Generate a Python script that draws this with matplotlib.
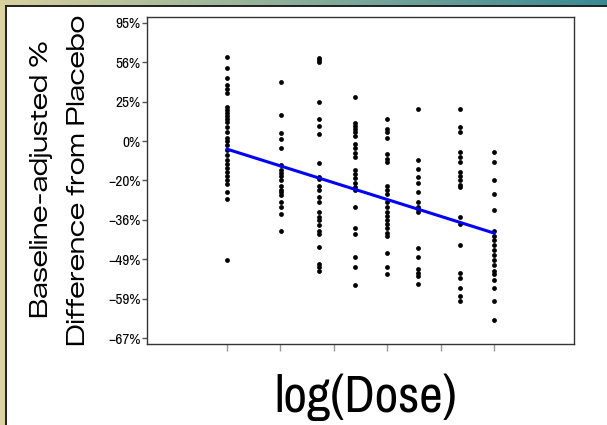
import numpy as np
import matplotlib
matplotlib.use("Agg")
import matplotlib.pyplot as plt

# ---- data (percent difference from placebo) ----
dose = [0, 1.01, 1.72, 2.39, 3.0, 3.58, 4.37, 5.0]
g1 = [61, 51, 43, 37, 34, 31, 21, 19, 17, 15, 13, 11.5, 8, 5, 2, 0, -2, -5,
      -7.5, -10, -12, -14, -16, -18, -20, -21.5, -25, -28, -49]
g2 = [40, 16, 4.5, 1, -4, -12.6, -15, -16.5, -18, -20, -22.5, -24, -25,
      -26.5, -29, -31, -34, -40]
g3 = [60, 58, 56, 25, 13, 9, 4, -11.5, -18.5, -19.5, -22.5, -24, -27, -29,
      -33, -35, -36, -38, -40, -41, -45, -50, -51, -52]
g4 = [28, 11, 9, 7, 5, 3, -1.5, -4, -6.5, -8.5, -15, -17, -19, -21, -23,
      -24, -31, -39, -41, -48, -51, -55.7]
g5 = [13, 7, 5, 2, -7, -9.5, -11, -22.5, -24, -26, -29, -31, -33, -34.5,
      -36, -37.5, -39, -40.5, -41.5, -47, -51, -53]
g6 = [20, -10, -14.5, -18.5, -21, -25, -29, -31, -32, -33, -45.5, -48,
      -51.5, -52.5, -53.5, -55.5]
g7 = [20, 8, 5.5, -6, -8.5, -11, -16, -18, -20, -22, -23, -35, -37.5, -44.5,
      -52.5, -54, -56.5, -58.5, -59.5]
g8 = [-6, -11, -20, -26, -32.5, -40, -41.5, -43, -44.5, -46, -47.5, -49,
      -50.5, -52, -53, -54.5, -56.5, -59.5, -63.7]
groups = [g1, g2, g3, g4, g5, g6, g7, g8]
fit_dose = [0, 5]
fit_pct = [-4.5, -40.6]
tick_steps = list(range(-5, 4))  # ticks at powers of 1.25
x_ticks = [0, 1, 2, 3, 4, 5]

narrow = ['Archivo Narrow', 'Liberation Sans', 'DejaVu Sans']
wide = ['Zalando Sans Expanded', 'Liberation Sans', 'DejaVu Sans']

W, H = 607, 425
fig = plt.figure(figsize=(W / 100, H / 100), dpi=100, facecolor='white')

# ---- frame decoration ----
bg = fig.add_axes([0, 0, 1, 1], zorder=-10)
bg.set_xlim(0, W)
bg.set_ylim(H, 0)
bg.axis('off')
c0 = np.array([0.85, 0.82, 0.62])
c1 = np.array([0.22, 0.54, 0.58])
t = np.linspace(0, 1, 256)[None, :, None]
grad = c0 + (c1 - c0) * t
bg.imshow(grad, extent=[0, W, 5.5, 0], aspect='auto', interpolation='bilinear')
bg.fill_between([0, 5.5], 5.5, H, color=(0.86, 0.83, 0.63), lw=0)
bg.plot([5.5, W], [6, 6], color='#202020', lw=1.4)
bg.plot([6, 6], [5.5, H], color='#202020', lw=1.4)

# ---- main axes ----
ax = fig.add_axes([147 / W, 1 - 344 / H, 427 / W, 327 / H])
for xd, g in zip(dose, groups):
    vals = 1 + np.array(g) / 100.0
    ax.scatter(np.full(len(vals), xd), vals, s=12, color='black', lw=0, zorder=3)
ax.plot(fit_dose, 1 + np.array(fit_pct) / 100.0, color='#0000ff', lw=2.2, zorder=4)

ax.set_yscale('log')
ax.set_xlim(-1.5, 6.5)
ax.set_ylim(0.3171, 2.017)
yt = [1.25 ** k for k in tick_steps]
ax.set_yticks(yt)
labels = []
for v in yt:
    p = int(round((v - 1) * 100))
    labels.append(('\u2212' if p < 0 else '') + f'{abs(p)}%')
ax.set_yticklabels(labels, fontsize=11, fontweight='bold', family=narrow)
ax.minorticks_off()
ax.set_xticks(x_ticks)
ax.set_xticklabels([])
ax.tick_params(axis='x', length=5, width=1, color='#999999')
ax.tick_params(axis='y', length=3.5, width=1, color='#555555', pad=1)
for s in ax.spines.values():
    s.set_color('#333333')
    s.set_linewidth(1.0)

fig.text(42 / W, 1 - 179 / H, 'Baseline-adjusted %', rotation=90, fontsize=17.5,
         family=wide, ha='center', va='center')
fig.text(79 / W, 1 - 180 / H, 'Difference from Placebo', rotation=90, fontsize=17.5,
         family=wide, ha='center', va='center')
fig.text(366 / W, 1 - 412 / H, 'log(Dose)', fontsize=37, family=narrow,
         ha='center', va='baseline')

fig.savefig('out.png', dpi=100, facecolor='white')
